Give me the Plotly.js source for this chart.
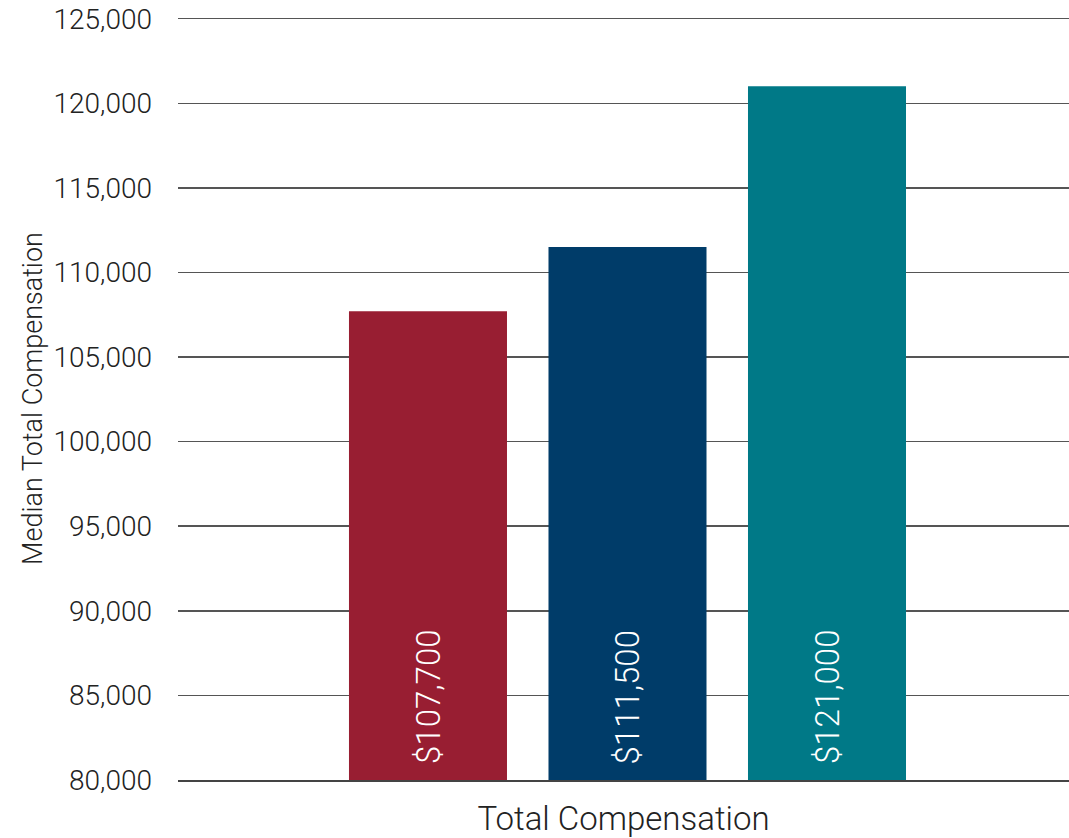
<!DOCTYPE html>
<html><head><meta charset="utf-8">
<script src="https://cdn.plot.ly/plotly-3.0.1.min.js"></script>
<style>html,body{margin:0;padding:0;background:#fff}#c{width:1069px;height:838px}</style>
</head><body><div id="c"></div>
<script>
const groupLabel = "Total Compensation";
const categories = ["Series A", "Series B", "Series C"];
const values = [107700, 111500, 121000];
const valueLabels = ["$107,700", "$111,500", "$121,000"];
const colors = ["#981e32", "#003c69", "#007987"];
const yTickVals = [80000, 85000, 90000, 95000, 100000, 105000, 110000, 115000, 120000, 125000];
const yMin = 80000;

const font = "Roboto, Lato, sans-serif";
const trace = {
  type: "bar",
  x: categories,
  y: values,
  marker: {color: colors},
  hoverinfo: "skip"
};

const annotations = categories.map((c, i) => ({
  x: c, y: yMin, xref: "x", yref: "y",
  text: valueLabels[i],
  showarrow: false,
  textangle: -90,
  xanchor: "center", yanchor: "bottom",
  yshift: 14,
  font: {color: "#ffffff", size: 33, family: font, weight: 300}
}));

const layout = {
  width: 1069, height: 838,
  margin: {l: 178, r: 0, t: 17, b: 58},
  paper_bgcolor: "#fff", plot_bgcolor: "#fff",
  showlegend: false,
  bargap: 0.208,
  font: {family: font, color: "#222"},
  annotations: annotations,
  xaxis: {
    type: "category",
    range: [-1.253, 3.213],
    showgrid: false,
    showline: true, linecolor: "#444", linewidth: 2,
    ticks: "", showticklabels: false,
    title: {text: groupLabel, font: {size: 33, family: font, color: "#222", weight: 300}, standoff: 26}
  },
  yaxis: {
    range: [80000, 125100],
    tickvals: yTickVals,
    tickformat: ",d",
    tickfont: {size: 28, family: font, color: "#222", weight: 300},
    showgrid: true, gridcolor: "#555", gridwidth: 1.5,
    zeroline: false, showline: false,
    ticks: "",
    ticklabelstandoff: 25,
    title: {text: "Median Total Compensation", font: {size: 27, family: font, color: "#222", weight: 300}, standoff: 2}
  }
};
Plotly.newPlot("c", [trace], layout, {displayModeBar: false, staticPlot: true});
</script></body></html>
